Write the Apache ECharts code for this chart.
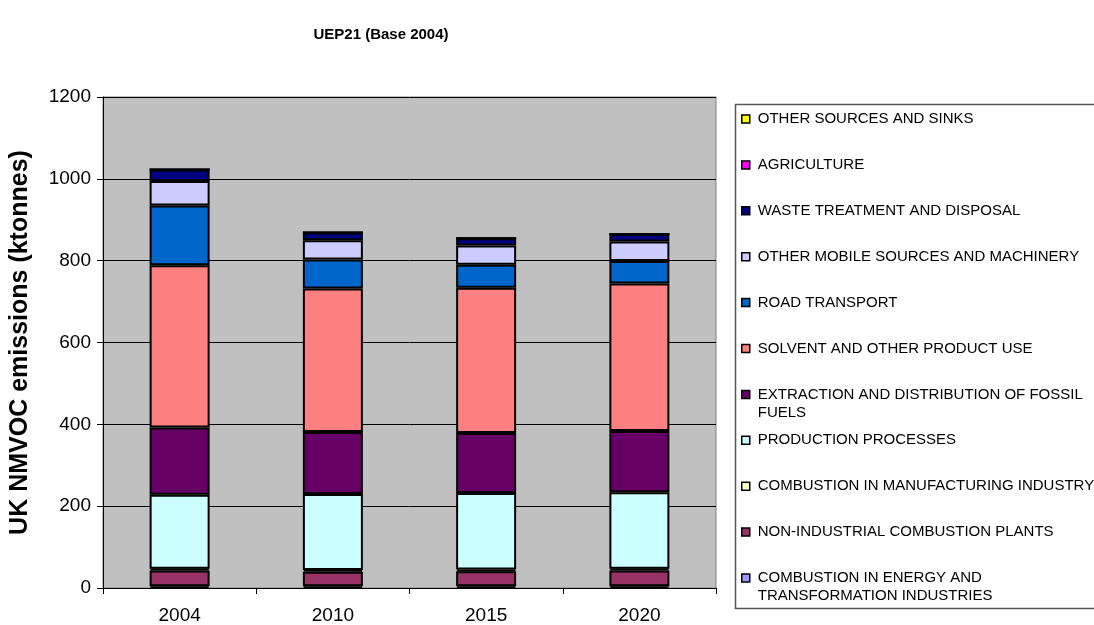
<!DOCTYPE html>
<html>
<head>
<meta charset="utf-8">
<title>UEP21 (Base 2004)</title>
<script src="https://cdn.jsdelivr.net/npm/echarts@6/dist/echarts.min.js"></script>
<style>
  html, body { margin: 0; padding: 0; background: #fff; }
  #main { width: 1094px; height: 625px; }
</style>
</head>
<body>
<div id="main"></div>
<script>
// years on the x axis
var years = ['2004', '2010', '2015', '2020'];

// sectors, bottom of the stack first
var sectors = [
  'COMBUSTION IN ENERGY AND TRANSFORMATION INDUSTRIES',
  'NON-INDUSTRIAL COMBUSTION PLANTS',
  'COMBUSTION IN MANUFACTURING INDUSTRY',
  'PRODUCTION PROCESSES',
  'EXTRACTION AND DISTRIBUTION OF FOSSIL FUELS',
  'SOLVENT AND OTHER PRODUCT USE',
  'ROAD TRANSPORT',
  'OTHER MOBILE SOURCES AND MACHINERY',
  'WASTE TREATMENT AND DISPOSAL',
  'AGRICULTURE',
  'OTHER SOURCES AND SINKS'
];
var sectorColors = ['#9999FF', '#993366', '#FFFFCC', '#CCFFFF', '#660066', '#FF8080',
  '#0066CC', '#CCCCFF', '#000080', '#FF00FF', '#FFFF00'];

// ktonnes
var energy        = [4, 4, 4, 4];
var nonIndustrial = [39, 36, 37, 39];
var manufacturing = [4, 4, 4, 4];
var production    = [181, 186, 187, 187];
var extraction    = [164, 151, 147, 150];
var solvent       = [397, 351, 355, 360];
var road          = [146, 71, 56, 55];
var otherMobile   = [60, 47, 47, 48];
var waste         = [28, 19, 18, 18];
var agriculture   = [0, 0, 0, 0];
var otherSources  = [0, 0, 0, 0];
var values = [energy, nonIndustrial, manufacturing, production, extraction, solvent,
  road, otherMobile, waste, agriculture, otherSources];

// y axis
var yMin = 0, yMax = 1200, yStep = 200;

var font = 'Liberation Sans, Arial, sans-serif';
var chart = echarts.init(document.getElementById('main'));

var series = sectors.map(function (name, i) {
  return {
    name: name,
    type: 'bar',
    stack: 'total',
    barWidth: 60,
    data: values[i],
    itemStyle: { color: sectorColors[i], borderColor: '#000', borderWidth: 2 },
    emphasis: { disabled: true }
  };
});

// legend: top to bottom is the stack reversed, one legend each so the rows stay on a fixed pitch
var legendOrder = sectors.slice().reverse();
// empty first line keeps the icon level with the first text line
var twoLine = {
  'EXTRACTION AND DISTRIBUTION OF FOSSIL FUELS': ' \nEXTRACTION AND DISTRIBUTION OF FOSSIL\nFUELS',
  'COMBUSTION IN ENERGY AND TRANSFORMATION INDUSTRIES': ' \nCOMBUSTION IN ENERGY AND\nTRANSFORMATION INDUSTRIES'
};
var legends = legendOrder.map(function (name, i) {
  var c = 119 + i * 45.9;
  var split = !!twoLine[name];
  return {
    data: [name],
    orient: 'vertical',
    left: 741,
    top: split ? c - 27 : c - 9,
    padding: 0,
    icon: 'rect',
    itemWidth: 8,
    itemHeight: 8,
    selectedMode: false,
    itemStyle: { borderColor: '#000', borderWidth: 1.5 },
    formatter: function (n) { return twoLine[n] || n; },
    textStyle: {
      fontFamily: font, fontSize: 15, color: '#000', lineHeight: 18,
      padding: [0, 0, 0, 3]
    }
  };
});

chart.setOption({
  animation: false,
  backgroundColor: '#fff',
  title: {
    text: 'UEP21 (Base 2004)',
    left: 381,
    top: 27,
    padding: 0,
    textAlign: 'center',
    textStyle: { fontFamily: font, fontSize: 15, fontWeight: 'bold', color: '#000' }
  },
  legend: legends,
  graphic: [{
    type: 'rect',
    shape: { x: 735.5, y: 104.5, width: 420, height: 504 },
    style: { fill: 'none', stroke: '#555', lineWidth: 1.5 },
    silent: true
  }],
  grid: {
    left: 103, top: 97, right: 378, bottom: 37,
    outerBoundsMode: 'none',
    containLabel: false,
    show: true, backgroundColor: '#C0C0C0', borderColor: '#808080', borderWidth: 1
  },
  xAxis: {
    type: 'category',
    data: years,
    axisLine: { lineStyle: { color: '#000', width: 1 } },
    axisTick: { show: true, length: 6, lineStyle: { color: '#000' } },
    axisLabel: { fontFamily: font, fontSize: 19, color: '#000', margin: 18 },
    splitLine: { show: false }
  },
  yAxis: {
    type: 'value',
    min: yMin, max: yMax, interval: yStep,
    name: 'UK NMVOC emissions (ktonnes)',
    nameLocation: 'middle',
    nameRotate: 90,
    nameGap: 70,
    nameMoveOverlap: false,
    nameTextStyle: { fontFamily: font, fontSize: 25, fontWeight: 'bold', color: '#000' },
    axisLine: { show: true, lineStyle: { color: '#000', width: 1 } },
    axisTick: { show: true, length: 6, lineStyle: { color: '#000' } },
    axisLabel: {
      fontFamily: font, fontSize: 19, color: '#000', margin: 12,
      formatter: function (v) { return String(v); }
    },
    splitLine: { show: true, lineStyle: { color: '#000', width: 1 } }
  },
  series: series
});
</script>
</body>
</html>
